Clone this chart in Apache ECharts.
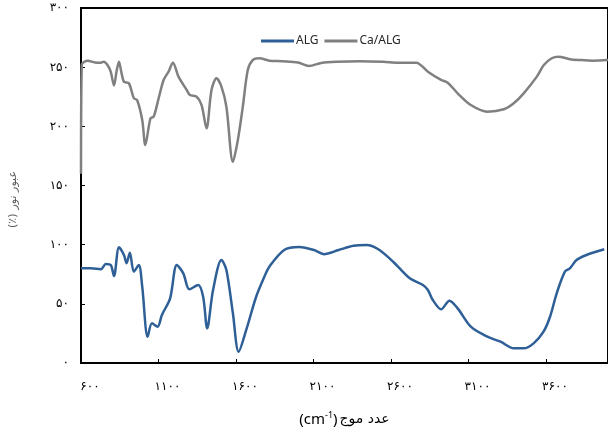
<!DOCTYPE html>
<html>
<head>
<meta charset="utf-8">
<script src="https://cdn.jsdelivr.net/npm/echarts@6/dist/echarts.min.js"></script>
<style>
  html, body { margin: 0; padding: 0; background: #fff; }
  #main { width: 608px; height: 433px; }
</style>
</head>
<body>
<div id="main"></div>
<script>
// wave numbers (cm-1) and transmittance
var algWave = [600, 664, 728, 760, 792, 813, 845, 877, 894, 915, 941, 973, 995, 1030, 1058, 1094, 1122, 1175, 1218, 1260, 1299, 1356, 1388, 1414, 1452, 1506, 1538, 1580, 1617, 1666, 1730, 1783, 1815, 1911, 2007, 2103, 2167, 2262, 2358, 2441, 2518, 2614, 2721, 2806, 2838, 2870, 2923, 2977, 3030, 3115, 3222, 3307, 3392, 3456, 3520, 3584, 3626, 3669, 3722, 3754, 3797, 3861, 3976];
var algValue = [80, 80, 79.2, 83.7, 82.8, 73.5, 97.8, 91.3, 84.3, 93.2, 77.2, 82.8, 64.5, 22.2, 33.5, 30.7, 40.6, 54.7, 82.8, 75.8, 62.3, 65.9, 56, 29.3, 61.7, 87, 78.6, 42, 9.5, 27.9, 56, 72.9, 81.4, 95.5, 98, 95.5, 92, 95.5, 99, 99.7, 96.1, 85.6, 71.6, 65.9, 61.7, 53.2, 45.4, 52.6, 46.2, 30.7, 22.2, 18, 12.4, 12.4, 16.6, 26.5, 39.1, 58.9, 77.2, 80, 87, 91.3, 96.1];

var caWave = [600, 605, 643, 690, 728, 747, 771, 792, 813, 830, 845, 860, 877, 909, 941, 962, 995, 1015, 1048, 1069, 1101, 1133, 1165, 1193, 1229, 1282, 1303, 1346, 1378, 1410, 1442, 1474, 1506, 1538, 1580, 1612, 1644, 1676, 1708, 1751, 1815, 1900, 2000, 2070, 2150, 2250, 2400, 2550, 2646, 2763, 2838, 2923, 2966, 3030, 3115, 3222, 3328, 3392, 3456, 3541, 3586, 3637, 3680, 3754, 3818, 3904, 4000];
var caValue = [160, 252, 255.5, 254, 253.8, 254.6, 251.8, 246, 234.5, 247, 254.6, 246, 237.7, 236.4, 223.7, 222.3, 205.4, 184.2, 206.8, 208.2, 223.7, 239.2, 246.2, 253.8, 242, 230.7, 226.5, 225, 218, 198.3, 230.7, 240.6, 233.5, 216.6, 170, 188.5, 216.6, 247.6, 256, 257.5, 255.5, 255, 254, 251, 253.5, 254.5, 255, 254.5, 253.8, 253.8, 246.2, 239.2, 236.9, 227.9, 218, 212.4, 214.4, 219.5, 227.9, 242, 251.8, 257.5, 258.9, 256.7, 256, 255.5, 256];

var xTicks = [600, 1100, 1600, 2100, 2600, 3100, 3600];
var xTickLabels = ['۶۰۰', '۱۱۰۰', '۱۶۰۰', '۲۱۰۰', '۲۶۰۰', '۳۱۰۰', '۳۶۰۰'];
var yTicks = [0, 50, 100, 150, 200, 250, 300];
var yTickLabels = ['۰', '۵۰', '۱۰۰', '۱۵۰', '۲۰۰', '۲۵۰', '۳۰۰'];

function zip(xs, ys) {
  return xs.map(function (x, i) { return [x, ys[i]]; });
}

var myChart = echarts.init(document.getElementById('main'));
myChart.setOption({
  animation: false,
  textStyle: { fontFamily: 'Noto Sans, DejaVu Sans, sans-serif' },
  legend: {
    left: 256,
    top: 30,
    itemWidth: 33,
    itemHeight: 3,
    itemGap: 6,
    icon: 'rect',
    textStyle: { fontSize: 12, color: '#262626', padding: [0, 0, 0, -3] },
    data: ['ALG', 'Ca/ALG']
  },
  grid: {
    left: 80,
    top: 8,
    width: 532,
    bottom: 70,
    show: true,
    borderColor: '#000',
    borderWidth: 2
  },
  xAxis: {
    type: 'value',
    min: 600,
    max: 4000,
    // pieces laid out in visual order so the Persian part sits on the right
    name: '{a|(cm}{s|-1}{a|)}{b|عدد موج}',
    nameLocation: 'middle',
    nameGap: 48,
    nameTextStyle: {
      rich: {
        a: { fontSize: 15, color: '#000', fontFamily: 'Noto Sans' },
        s: { fontSize: 9, color: '#000', verticalAlign: 'top', padding: [0, 0, 8, 0], fontFamily: 'Noto Sans' },
        b: { fontSize: 14, color: '#000', fontFamily: 'DejaVu Sans', padding: [0, 0, 0, 2] }
      }
    },
    splitLine: { show: false },
    axisLine: { lineStyle: { color: '#000', width: 2 } },
    axisTick: { inside: true, length: 4, customValues: xTicks, lineStyle: { color: '#000' } },
    axisLabel: {
      customValues: xTicks,
      margin: 18,
      padding: [0, 0, 0, 18],
      fontSize: 12,
      color: '#000',
      formatter: function (v) { return xTickLabels[xTicks.indexOf(v)]; }
    }
  },
  yAxis: {
    type: 'value',
    min: 0,
    max: 300,
    interval: 50,
    name: '{p|(٪)}{b|عبور نور}',
    nameLocation: 'middle',
    nameRotate: 90,
    nameGap: 62,
    nameTextStyle: {
      rich: {
        p: { fontSize: 11, color: '#595959', fontFamily: 'DejaVu Sans', padding: [0, 4, 0, 0] },
        b: { fontSize: 11, color: '#595959', fontFamily: 'DejaVu Sans', padding: [0, 28, 0, 0] }
      }
    },
    splitLine: { show: false },
    axisLine: { show: true, lineStyle: { color: '#000', width: 2 } },
    axisTick: { show: true, inside: true, length: 4, lineStyle: { color: '#000' } },
    axisLabel: {
      margin: 12,
      fontSize: 12,
      color: '#000',
      formatter: function (v) { return yTickLabels[yTicks.indexOf(v)]; }
    }
  },
  series: [
    {
      name: 'ALG',
      type: 'line',
      data: zip(algWave, algValue),
      showSymbol: false,
      smooth: 0.3,
      color: '#2e5f97',
      lineStyle: { width: 2.5, color: '#2e5f97' }
    },
    {
      name: 'Ca/ALG',
      type: 'line',
      data: zip(caWave, caValue),
      showSymbol: false,
      smooth: 0.3,
      color: '#808080',
      lineStyle: { width: 2.5, color: '#808080' }
    }
  ]
});
</script>
</body>
</html>
